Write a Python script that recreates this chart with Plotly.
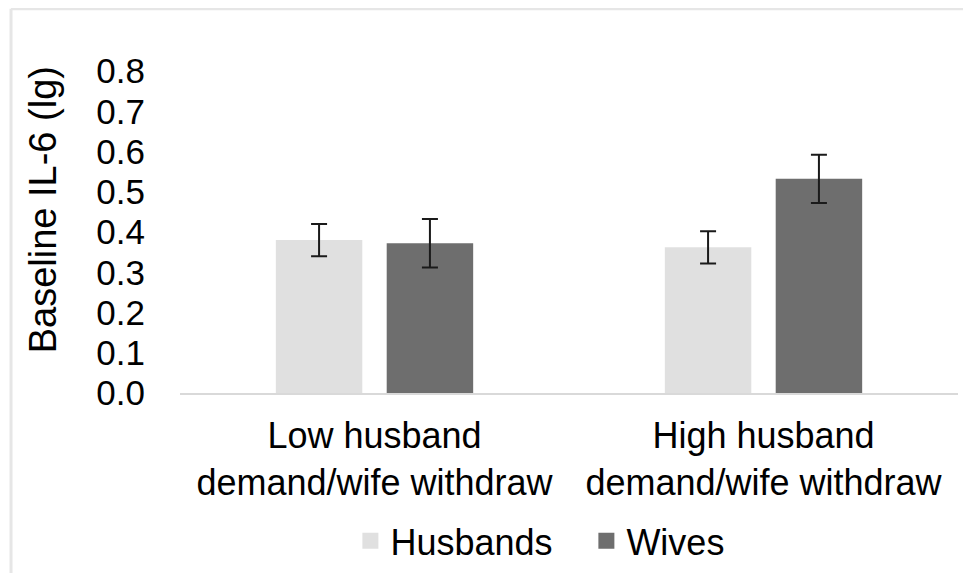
import plotly.graph_objects as go

categories = ["Low husband<br>demand/wife withdraw", "High husband<br>demand/wife withdraw"]
husbands = [0.38, 0.362]
husbands_err = [0.04, 0.04]
wives = [0.372, 0.532]
wives_err = [0.06, 0.06]
y_ticks = [0.0, 0.1, 0.2, 0.3, 0.4, 0.5, 0.6, 0.7, 0.8]

FONT = "Liberation Sans, Arial, sans-serif"
C_H = "#e0e0e0"
C_W = "#6e6e6e"

fig = go.Figure()
fig.add_trace(go.Bar(
    name="Husbands", x=categories, y=husbands, showlegend=False, legendgroup="h",
    marker=dict(color=C_H, line=dict(width=0)),
    error_y=dict(type="data", array=husbands_err, visible=True,
                 color="#1a1a1a", thickness=2, width=8),
))
fig.add_trace(go.Bar(
    name="Wives", x=categories, y=wives, showlegend=False, legendgroup="w",
    marker=dict(color=C_W, line=dict(width=0)),
    error_y=dict(type="data", array=wives_err, visible=True,
                 color="#1a1a1a", thickness=2, width=8),
))
# legend entries with larger square swatches
for nm, col, grp in [("Husbands", C_H, "h"), ("Wives", C_W, "w")]:
    fig.add_trace(go.Scatter(
        name=nm, x=[None], y=[None], mode="markers", legendgroup=grp,
        marker=dict(symbol="square", size=16, color=col), hoverinfo="skip",
    ))

fig.update_layout(
    width=971, height=573,
    margin=dict(l=172, r=21, t=63, b=187),
    paper_bgcolor="white", plot_bgcolor="white",
    barmode="group", bargap=0.43, bargroupgap=0.22,
    font=dict(family=FONT, color="#000000"),
    showlegend=True,
    legend=dict(orientation="h", x=0.219, xanchor="left", y=-0.455, yanchor="middle",
                font=dict(size=36, family=FONT), itemsizing="trace",
                entrywidth=191, entrywidthmode="pixels", itemwidth=30,
                traceorder="normal"),
    xaxis=dict(showline=True, linecolor="#d9d9d9", linewidth=2, showgrid=False,
               ticks="", tickfont=dict(size=36, family=FONT), zeroline=False,
               ticklabelstandoff=10),
    yaxis=dict(range=[0, 0.8], tickvals=y_ticks, ticktext=[f"{v:.1f}" for v in y_ticks],
               showgrid=False, zeroline=False, showline=False, ticks="",
               tickfont=dict(size=35, family=FONT), ticklabelstandoff=34),
    shapes=[
        dict(type="line", xref="paper", yref="paper", x0=-0.2172, x1=-0.2172, y0=-2, y1=1.1935,
             line=dict(color="#e6e6e6", width=3), layer="below"),
        dict(type="line", xref="paper", yref="paper", x0=-0.2172, x1=1.5, y0=1.1935, y1=1.1935,
             line=dict(color="#e6e6e6", width=3), layer="below"),
    ],
    annotations=[
        dict(text="Baseline IL-6 (lg)", xref="paper", yref="paper",
             x=-0.175, y=0.57, textangle=-90, showarrow=False,
             font=dict(size=38, family=FONT), xanchor="center", yanchor="middle"),
    ],
)

fig.write_html("out.html")
